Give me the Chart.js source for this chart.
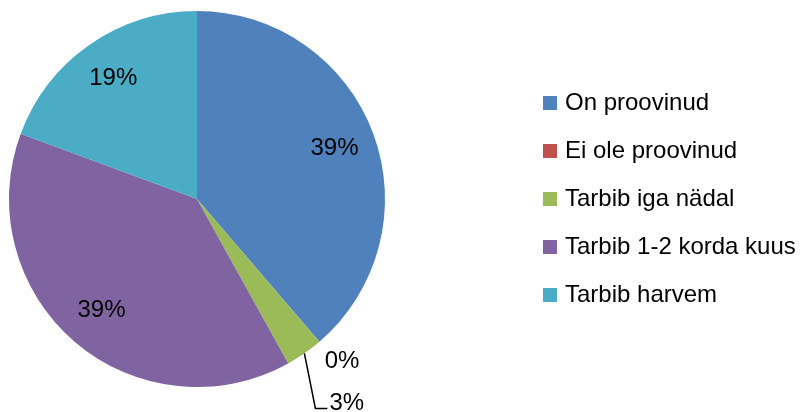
<!DOCTYPE html>
<html>
<head>
<meta charset="utf-8">
<script src="https://cdn.jsdelivr.net/npm/chart.js@4/dist/chart.umd.min.js"></script>
<style>
  html, body { margin: 0; padding: 0; background: #fff; }
  #wrap { width: 804px; height: 412px; position: relative; }
</style>
</head>
<body>
<div id="wrap"><canvas id="pie"></canvas></div>
<script>
const categories = ['On proovinud', 'Ei ole proovinud', 'Tarbib iga nädal', 'Tarbib 1-2 korda kuus', 'Tarbib harvem'];
const values = [12, 0, 1, 12, 6];
const colors = ['#4F81BD', '#C0504D', '#9BBB59', '#8064A2', '#4BACC6'];

const FONT = '24px "Liberation Sans", Arial, sans-serif';

// percent labels inside big slices, outside (with leader line when stacked) for small ones
const sliceLabels = {
  id: 'sliceLabels',
  afterDraw(chart) {
    const ctx = chart.ctx;
    const arcs = chart.getDatasetMeta(0).data;
    const total = values.reduce((a, b) => a + b, 0);
    ctx.save();
    ctx.font = FONT;
    ctx.fillStyle = '#000';
    ctx.strokeStyle = '#000';
    ctx.lineWidth = 1.5;
    let prevY = null;
    arcs.forEach((arc, i) => {
      const pct = Math.round(values[i] / total * 100);
      const txt = pct + '%';
      const mid = (arc.startAngle + arc.endAngle) / 2;
      const R = arc.outerRadius;
      if (pct >= 5) {
        ctx.textAlign = 'center';
        ctx.textBaseline = 'middle';
        ctx.fillText(txt, arc.x + 0.78 * R * Math.cos(mid), arc.y + 0.78 * R * Math.sin(mid));
        return;
      }
      if (prevY === null) {
        const lx = arc.x + 1.16 * R * Math.cos(mid);
        const ly = arc.y + 1.16 * R * Math.sin(mid);
        ctx.textAlign = 'center';
        ctx.textBaseline = 'middle';
        ctx.fillText(txt, lx + 3, ly - 3);
        prevY = ly - 3;
      } else {
        const ax = arc.x + R * Math.cos(mid);
        const ay = arc.y + R * Math.sin(mid);
        const ty = prevY + 42;
        const ex = ax + 11;
        ctx.beginPath();
        ctx.moveTo(ax, ay);
        ctx.lineTo(ex, ty + 5);
        ctx.lineTo(ex + 12, ty + 5);
        ctx.stroke();
        ctx.textAlign = 'left';
        ctx.textBaseline = 'middle';
        ctx.fillText(txt, ex + 14, ty);
        prevY = ty;
      }
    });
    ctx.restore();
  }
};

const sideLegend = {
  id: 'sideLegend',
  afterDraw(chart) {
    const ctx = chart.ctx;
    ctx.save();
    ctx.font = FONT;
    ctx.textAlign = 'left';
    ctx.textBaseline = 'middle';
    categories.forEach((name, i) => {
      const y = 103 + i * 48;
      ctx.fillStyle = colors[i];
      ctx.fillRect(543, y - 7, 14, 14);
      ctx.fillStyle = '#000';
      ctx.fillText(name, 565, y);
    });
    ctx.restore();
  }
};

new Chart(document.getElementById('pie'), {
  type: 'pie',
  data: {
    labels: categories,
    datasets: [{
      data: values,
      backgroundColor: colors,
      borderWidth: 0
    }]
  },
  options: {
    responsive: true,
    maintainAspectRatio: false,
    animation: false,
    layout: { padding: { left: 9, right: 419, top: 11, bottom: 25 } },
    plugins: {
      legend: { display: false },
      tooltip: { enabled: false }
    }
  },
  plugins: [sliceLabels, sideLegend]
});
</script>
</body>
</html>
